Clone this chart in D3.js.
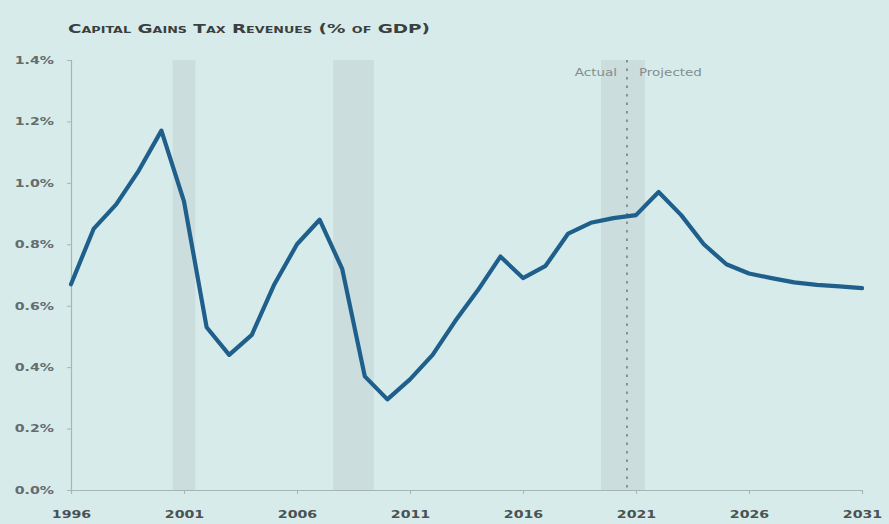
<!DOCTYPE html>
<html>
<head>
<meta charset="utf-8">
<script src="https://cdn.jsdelivr.net/npm/d3@7/dist/d3.min.js"></script>
<style>
  html, body { margin: 0; padding: 0; background: #d7ecea; }
  svg { display: block; }
</style>
</head>
<body>
<svg id="chart" width="889" height="524"></svg>
<script>
// Capital gains tax revenues as a share of GDP, fiscal years 1996-2031
const years = d3.range(1996, 2032);
const revenueShare = [
  0.67, 0.85, 0.93, 1.04, 1.17, 0.94, 0.53, 0.44, 0.505, 0.67,
  0.80, 0.88, 0.72, 0.37, 0.295, 0.36, 0.44, 0.55, 0.65, 0.76,
  0.69, 0.73, 0.835, 0.87, 0.885, 0.895, 0.97, 0.895, 0.80, 0.735,
  0.705, 0.69, 0.676, 0.668, 0.663, 0.657
];
// Recession periods (shaded)
const recessionStart = [2000.5, 2007.6, 2019.45];
const recessionEnd   = [2001.5, 2009.4, 2021.4];
// Boundary between actual and projected values
const projectionStart = 2020.6;
const xTickYears = [1996, 2001, 2006, 2011, 2016, 2021, 2026, 2031];
const yTickValues = [0, 0.2, 0.4, 0.6, 0.8, 1.0, 1.2, 1.4];
const titleText = "Capital Gains Tax Revenues (% of GDP)";
const legendLeft = "Actual";
const legendRight = "Projected";

const W = 889, H = 524;
const margin = { top: 60, right: 27, bottom: 34, left: 71 };
const stretch = 1.35;   // wide lettering used for all labels

const svg = d3.select("#chart");
svg.append("rect").attr("width", W).attr("height", H).attr("fill", "#d7ecea");

const x = d3.scaleLinear().domain([1996, 2031]).range([margin.left, W - margin.right]);
const y = d3.scaleLinear().domain([0, 1.4]).range([H - margin.bottom, margin.top]);

// Recession bands
svg.append("g").selectAll("rect")
  .data(recessionStart.map((s, i) => [s, recessionEnd[i]]))
  .join("rect")
  .attr("x", d => x(d[0]))
  .attr("width", d => x(d[1]) - x(d[0]))
  .attr("y", y(1.4))
  .attr("height", y(0) - y(1.4))
  .attr("fill", "#cbdddc");

// Axes
const axisColor = "#a5b6b5";
const labelFont = "DejaVu Sans, sans-serif";

const yAxis = svg.append("g")
  .attr("transform", `translate(${margin.left},0)`)
  .call(d3.axisLeft(y).tickValues(yTickValues).tickSize(4).tickPadding(0)
    .tickFormat(d => d3.format(".1f")(d) + "%"));
yAxis.select(".domain").attr("stroke", axisColor).attr("stroke-width", 1.2);
yAxis.selectAll(".tick line").attr("stroke", axisColor);
yAxis.selectAll(".tick text")
  .attr("x", null)
  .attr("transform", `translate(-17,0) scale(${stretch},1)`)
  .attr("fill", "#646c6d")
  .attr("font-family", labelFont)
  .attr("font-size", 10.5)
  .attr("font-weight", 600);

const xAxis = svg.append("g")
  .attr("transform", `translate(0,${H - margin.bottom})`)
  .call(d3.axisBottom(x).tickValues(xTickYears).tickSize(4).tickPadding(0)
    .tickFormat(d3.format("d")));
xAxis.select(".domain").attr("stroke", axisColor).attr("stroke-width", 1.2);
xAxis.selectAll(".tick line").attr("stroke", axisColor);
xAxis.selectAll(".tick text")
  .attr("y", null).attr("dy", null)
  .attr("transform", `translate(0,28) scale(${stretch},1)`)
  .attr("fill", "#4a5253")
  .attr("font-family", labelFont)
  .attr("font-size", 10.5)
  .attr("font-weight", 600);

// Actual / projected divider
svg.append("line")
  .attr("x1", x(projectionStart)).attr("x2", x(projectionStart))
  .attr("y1", y(1.4)).attr("y2", y(0))
  .attr("stroke", "#6f7d7e")
  .attr("stroke-width", 1.5)
  .attr("stroke-dasharray", "2.5,6");

svg.append("text")
  .attr("transform", `translate(${x(projectionStart) - 10},76) scale(${stretch},1)`)
  .attr("text-anchor", "end")
  .attr("font-family", labelFont).attr("font-size", 10)
  .attr("fill", "#848e8f")
  .text(legendLeft);
svg.append("text")
  .attr("transform", `translate(${x(projectionStart) + 12},76) scale(${stretch},1)`)
  .attr("font-family", labelFont).attr("font-size", 10)
  .attr("fill", "#848e8f")
  .text(legendRight);

// Revenue line
const line = d3.line()
  .x((d, i) => x(years[i]))
  .y(d => y(d));
svg.append("path")
  .datum(revenueShare)
  .attr("d", line)
  .attr("fill", "none")
  .attr("stroke", "#1f5f8c")
  .attr("stroke-width", 4.2)
  .attr("stroke-linejoin", "round")
  .attr("stroke-linecap", "round");

// Title
svg.append("text")
  .attr("x", 68).attr("y", 33)
  .attr("font-family", labelFont)
  .attr("font-size", 13)
  .attr("font-weight", "bold")
  .attr("font-variant", "small-caps")
  .attr("fill", "#3a3f40")
  .attr("textLength", 362)
  .attr("lengthAdjust", "spacingAndGlyphs")
  .text(titleText);
</script>
</body>
</html>
